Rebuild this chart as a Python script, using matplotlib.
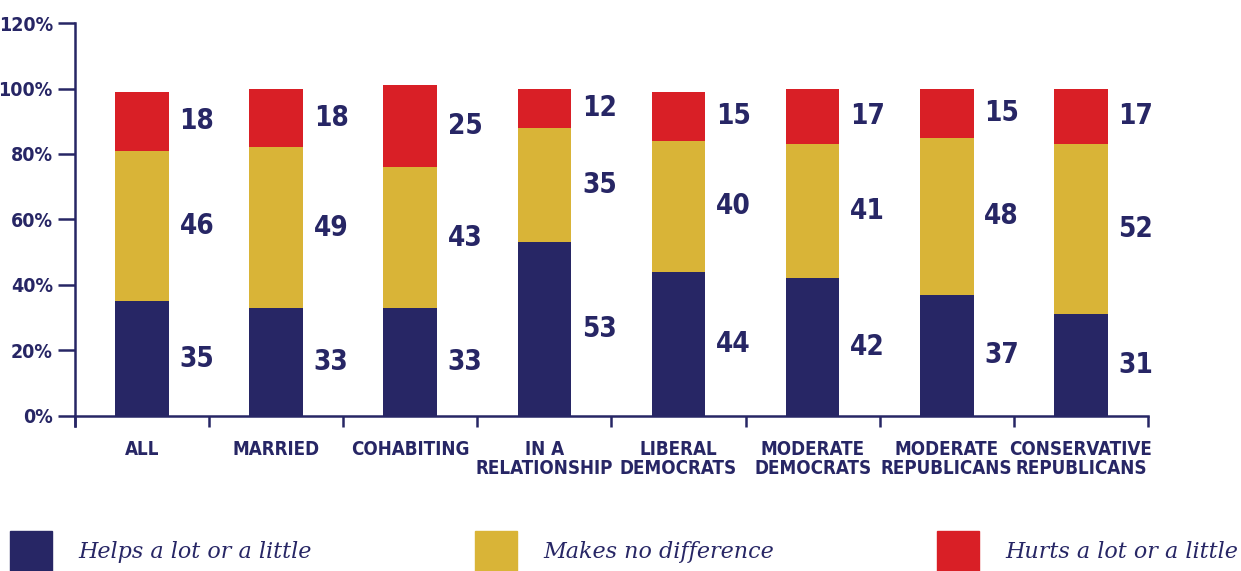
import matplotlib
matplotlib.use("Agg")
import matplotlib.pyplot as plt
from matplotlib.patches import Patch
import numpy as np

categories = ["ALL", "MARRIED", "COHABITING", "IN A\nRELATIONSHIP", "LIBERAL\nDEMOCRATS",
              "MODERATE\nDEMOCRATS", "MODERATE\nREPUBLICANS", "CONSERVATIVE\nREPUBLICANS"]
helps = [35, 33, 33, 53, 44, 42, 37, 31]
no_diff = [46, 49, 43, 35, 40, 41, 48, 52]
hurts = [18, 18, 25, 12, 15, 17, 15, 17]
series_names = ["Helps a lot or a little", "Makes no difference", "Hurts a lot or a little"]
y_ticks = [0, 20, 40, 60, 80, 100, 120]

navy = "#272665"
gold = "#D9B437"
red = "#D91F26"
cond = dict(family="DejaVu Sans", stretch="condensed", fontweight="bold", color=navy)

fig = plt.figure(figsize=(12.41, 5.71), dpi=100)
ax = fig.add_axes([0.0604, 0.2715, 0.8646, 0.6882])

x = np.arange(len(categories))
w = 0.4
bottoms = np.zeros(len(categories))
for vals, col in zip([helps, no_diff, hurts], [navy, gold, red]):
    vals = np.array(vals, dtype=float)
    ax.bar(x, vals, w, bottom=bottoms, color=col, zorder=2)
    for xi, b, v in zip(x, bottoms, vals):
        ax.text(xi + w / 2 + 0.08, b + v / 2, f"{int(v)}", ha="left", va="center",
                fontsize=20, **cond)
    bottoms += vals

ax.set_xlim(-0.5, len(categories) - 0.5)
ax.set_ylim(0, 120)
ax.set_yticks(y_ticks)
ax.set_yticklabels([f"{t}%" for t in y_ticks], fontsize=14, **cond)
ax.set_xticks(np.arange(len(categories) + 1) - 0.5)
ax.set_xticklabels([])
ax.set_xticks(x, minor=True)
ax.set_xticklabels(categories, minor=True, fontsize=13.5, linespacing=1.05, **cond)
ax.tick_params(axis="x", which="minor", length=0, pad=17)
ax.tick_params(axis="x", which="major", length=8, width=1.8, color=navy)
ax.tick_params(axis="y", length=12, width=1.8, color=navy, pad=4)

for s in ["top", "right"]:
    ax.spines[s].set_visible(False)
for s in ["left", "bottom"]:
    ax.spines[s].set_color(navy)
    ax.spines[s].set_linewidth(1.8)
ax.spines["left"].set_bounds(-3, 120)

handles = [Patch(color=c) for c in [navy, gold, red]]
fig.legend(handles, series_names, ncol=3, loc="lower left", bbox_to_anchor=(0.008, 0.0, 0.99, 0.1),
           mode="expand", frameon=False, handlelength=1.9, handleheight=2.4, handletextpad=1.2,
           prop={"family": "DejaVu Serif", "style": "italic", "size": 16}, labelcolor=navy,
           borderaxespad=0, borderpad=0)

fig.savefig("out.png", dpi=100)
